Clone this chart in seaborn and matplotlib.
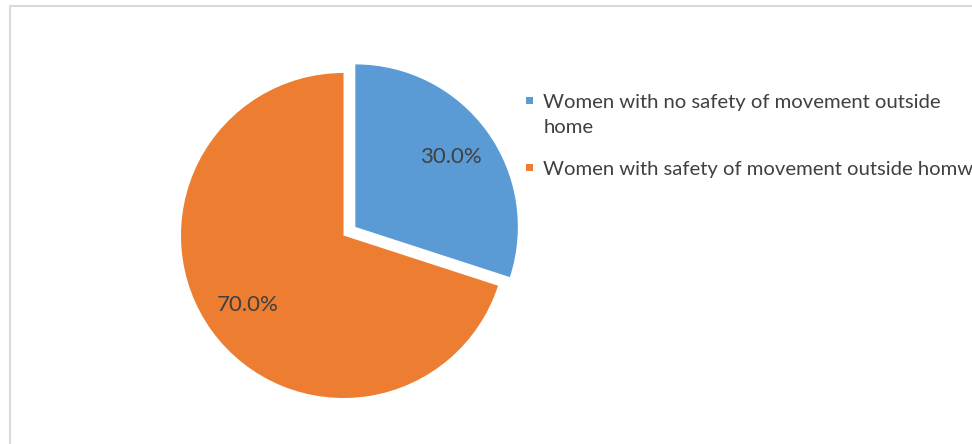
import matplotlib
matplotlib.use("Agg")
import matplotlib.pyplot as plt
import seaborn as sns
from matplotlib.patches import Rectangle

# Survey result: share of women by perceived safety outside the home
categories = [
    "Women with no safety of movement outside\nhome",
    "Women with safety of movement outside homw",
]
shares = [30.0, 70.0]
colors = ["#5B9BD5", "#ED7D31"]
explode = [0.09, 0.0]

sns.set_theme(style="white")
plt.rcParams["font.family"] = ["Lato", "DejaVu Sans"]

TEXT = "#404040"
W, H = 972, 444
fig = plt.figure(figsize=(W / 100, H / 100), dpi=100)
fig.patch.set_facecolor("white")


def px_box(left, top, w, h):
    """Convert a pixel box (from top-left) to figure fractions."""
    return [left / W, 1 - (top + h) / H, w / W, h / H]


# Pie
R = 162.5
cx, cy = 343.5, 235.5
half = 1.2 * R
ax = fig.add_axes(px_box(cx - half, cy - half, 2 * half, 2 * half))
wedges, texts, autotexts = ax.pie(
    shares,
    colors=colors,
    explode=explode,
    startangle=90,
    counterclock=False,
    autopct="%.1f%%",
    pctdistance=0.73,
    textprops=dict(color=TEXT, fontsize=16),
    wedgeprops=dict(linewidth=0),
)
ax.set_xlim(-1.2, 1.2)
ax.set_ylim(-1.2, 1.2)
ax.set_aspect("equal")
ax.axis("off")

# Chart-area border (runs off the right and bottom edges)
fig.add_artist(Rectangle((10 / W, -0.2), 1.5, 1.2 - 6 / H,
                         transform=fig.transFigure, fill=False,
                         edgecolor="#D9D9D9", linewidth=1.5))

# Legend
leg_fs = 14.6
marker_x, text_x = 526, 543.3
baselines = [108.3, 175.0]
line_gap = 25
for label, color, base in zip(categories, colors, baselines):
    fig.add_artist(Rectangle(((marker_x) / W, 1 - (base - 4.5) / H), 7 / W, 7 / H,
                             transform=fig.transFigure, facecolor=color,
                             edgecolor="none"))
    for i, line in enumerate(label.split("\n")):
        fig.text(text_x / W, 1 - (base + i * line_gap) / H, line,
                 ha="left", va="baseline", fontsize=leg_fs, color=TEXT)

fig.savefig("out.png", dpi=100, facecolor="white")
